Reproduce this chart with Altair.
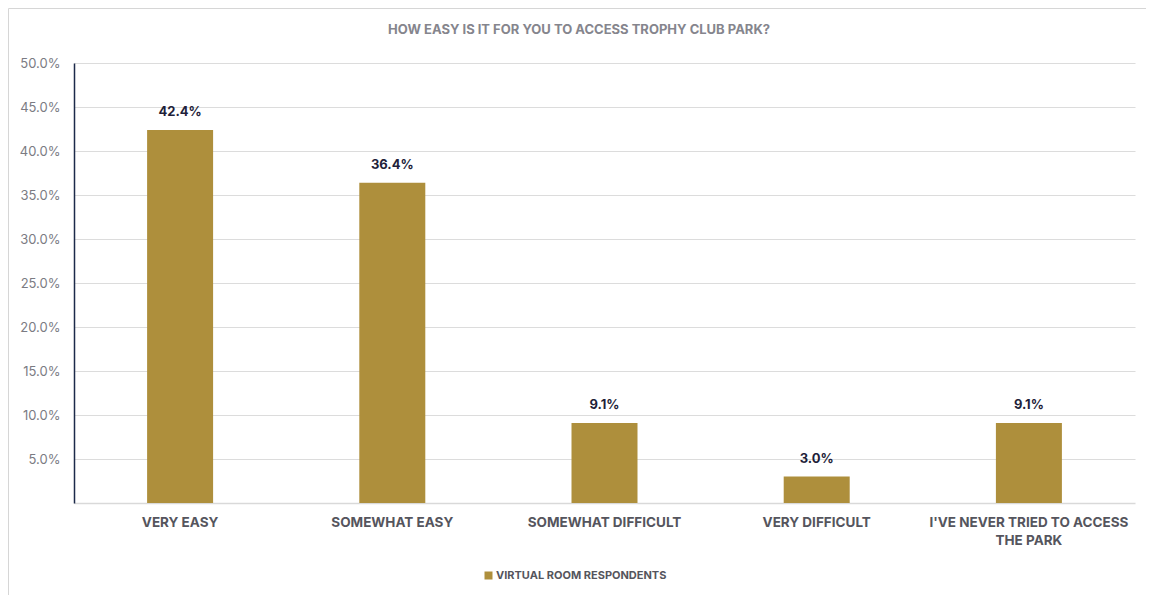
import altair as alt
import pandas as pd

categories = ["VERY EASY", "SOMEWHAT EASY", "SOMEWHAT DIFFICULT", "VERY DIFFICULT",
              "I'VE NEVER TRIED TO ACCESS THE PARK"]
values = [0.424, 0.364, 0.091, 0.030, 0.091]
series = "VIRTUAL ROOM RESPONDENTS"
y_ticks = [0.05, 0.10, 0.15, 0.20, 0.25, 0.30, 0.35, 0.40, 0.45, 0.50]
title_text = "HOW EASY IS IT FOR YOU TO ACCESS TROPHY CLUB PARK?"

df = pd.DataFrame({"category": categories, "value": values, "series": [series] * len(categories)})

FONT = "Inter"
GOLD = "#AE8F3C"

label_expr = ('datum.value == "I\'VE NEVER TRIED TO ACCESS THE PARK" ? '
              '["I\'VE NEVER TRIED TO ACCESS", "THE PARK"] : datum.label')

x_enc = alt.X("category:N", sort=categories, title=None,
              scale=alt.Scale(paddingInner=0, paddingOuter=0),
              axis=alt.Axis(labelAngle=0, labelFont=FONT, labelFontSize=13.5, labelFontWeight="bold",
                            labelColor="#55555d", labelPadding=12, labelLineHeight=18,
                            ticks=False, domainColor="#d9d9d9", domainWidth=1.5,
                            labelExpr=label_expr, labelLimit=300))
y_enc = alt.Y("value:Q", title=None,
              scale=alt.Scale(domain=[0, 0.5], nice=False),
              axis=alt.Axis(values=y_ticks, format=".1%", labelFont=FONT, labelFontSize=13,
                            labelColor="#7b7b83", labelPadding=14, ticks=False,
                            domainColor="#1c2a4a", domainWidth=1.5,
                            gridColor="#dcdcdc", gridWidth=1.2))

base = alt.Chart(df)
one = base.transform_filter(alt.datum.category == "VERY EASY")

border_left = one.mark_rule(color="#d6d6d6", strokeWidth=1).encode(
    x=alt.value(-65.5), y=alt.value(-54.5), y2=alt.value(700))
border_top = one.mark_rule(color="#d6d6d6", strokeWidth=1).encode(
    x=alt.value(-65.5), x2=alt.value(1200), y=alt.value(-54.5))

title = one.mark_text(font=FONT, fontSize=13, fontWeight="bold", color="#85858d",
                      align="center", baseline="middle").encode(
    x=alt.value(505), y=alt.value(-33), text=alt.value(title_text))

bars = base.mark_bar(size=66).encode(
    x=x_enc, y=y_enc,
    color=alt.Color("series:N", scale=alt.Scale(range=[GOLD]),
                    legend=alt.Legend(title=None, orient="none", legendX=409, legendY=507,
                                      symbolType="square", symbolSize=64, symbolStrokeWidth=0,
                                      labelFont=FONT, labelFontSize=11, labelFontWeight="bold",
                                      labelColor="#55555d", labelOffset=2, padding=0,
                                      labelLimit=400))
)

labels = base.mark_text(baseline="bottom", dy=-11, font=FONT, fontSize=13, fontWeight="bold",
                        color="#1f1f3a").encode(
    x=alt.X("category:N", sort=categories),
    y="value:Q",
    text=alt.Text("value:Q", format=".1%"),
)

chart = alt.layer(border_left, border_top, title, bars, labels).properties(
    width=1061, height=440,
    padding={"left": 66, "top": 55, "right": 11, "bottom": 92},
    autosize=alt.AutoSizeParams(type="none"),
).configure_view(stroke=None)

chart.save("out.html", embed_options={"renderer": "svg", "actions": False})
